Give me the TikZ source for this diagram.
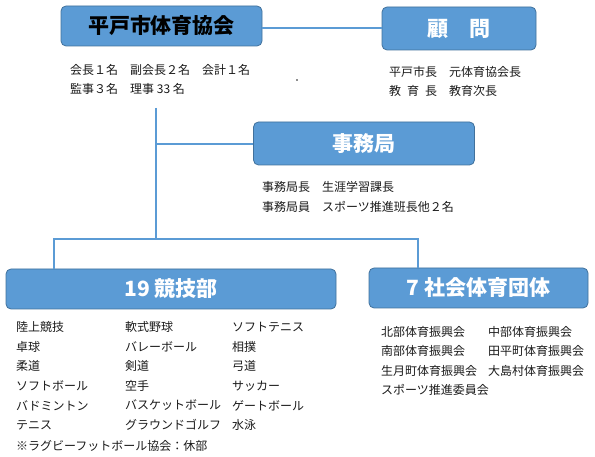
\documentclass[tikz,border=0pt]{standalone}
\usepackage{fontspec}
\setmainfont{Noto Sans CJK JP}
\newfontfamily\jpb{Noto Sans CJK JP}[FakeBold=0]
\definecolor{boxfill}{HTML}{5B9BD5}
\definecolor{boxline}{HTML}{41719C}
\definecolor{conn}{HTML}{5B9BD5}
\definecolor{txt}{HTML}{1A1A1A}
\begin{document}
\begin{tikzpicture}[x=1pt,y=-1pt,
  orgbox/.style={draw=boxline,line width=0.8pt,fill=boxfill,rounded corners=5pt,inner sep=0pt,
    font=\fontsize{21}{21}\selectfont\bfseries},
  body/.style={anchor=west,inner sep=0pt,text=txt,font=\fontsize{12}{12}\selectfont},
  connline/.style={draw=conn,line width=1.6pt}]
\useasboundingbox (0,0) rectangle (595,457);
% boxes
\node[orgbox,minimum width=201pt,minimum height=40pt,text=black] (A) at (161.5,26) {平戸市体育協会};
\node[orgbox,minimum width=154pt,minimum height=43pt,text=white] (B) at (459,28.5) {顧　問};
\node[orgbox,minimum width=221pt,minimum height=43pt,text=white] (C) at (364,143.5) {事務局};
\node[orgbox,minimum width=330pt,minimum height=40pt,text=white] (D) at (171,289) {19 競技部};
\node[orgbox,minimum width=219pt,minimum height=40pt,text=white] (E) at (478.5,288) {7 社会体育団体};
% connectors
\coordinate (jAB) at (320,28);
\coordinate (tTop) at (156,108);
\coordinate (tMid) at (156,144);
\coordinate (tBot) at (156,239);
\coordinate (jL) at (54,239);
\coordinate (jR) at (418,239);
\draw[connline] (jAB -| A.east) -- (jAB -| B.west);
\draw[connline] (tTop) -- (tBot);
\draw[connline] (tMid) -- (tMid -| C.west);
\draw[connline] (jL |- D.north) -- (jL) -- (jR) -- (jR |- E.north);
% stray dot
\fill[txt] (297,80) circle (0.9pt);
% texts under A
\node[body] (a1) at (70,70) {会長１名　副会長２名　会計１名};
\node[body] (a2) at (70,88.5) {監事３名　理事 33 名};
% texts under B
\node[body] (b1) at (389,72) {平戸市長　元体育協会長};
\node[body] (b2) at (389,91) {教\hspace{6pt}育\hspace{6pt}長　教育次長};
% texts under C
\node[body] (c1) at (262,187) {事務局長　生涯学習課長};
\node[body] (c2) at (262,207) {事務局員　スポーツ推進班長他２名};
% 19 sports
\node[body] (d11) at (16,327) {陸上競技};
\node[body] (d12) at (16,346.5) {卓球};
\node[body] (d13) at (16,366) {柔道};
\node[body] (d14) at (16,386) {ソフトボール};
\node[body] (d15) at (16,405.5) {バドミントン};
\node[body] (d16) at (16,425) {テニス};
\node[body] (d21) at (125,327) {軟式野球};
\node[body] (d22) at (125,346.5) {バレーボール};
\node[body] (d23) at (125,366) {剣道};
\node[body] (d24) at (125,386) {空手};
\node[body] (d25) at (125,405.5) {バスケットボール};
\node[body] (d26) at (125,425) {グラウンドゴルフ};
\node[body] (d31) at (232,327) {ソフトテニス};
\node[body] (d32) at (232,346.5) {相撲};
\node[body] (d33) at (232,366) {弓道};
\node[body] (d34) at (232,386) {サッカー};
\node[body] (d35) at (232,405.5) {ゲートボール};
\node[body] (d36) at (232,425) {水泳};
\node[body] (d4) at (16,446) {※ラグビーフットボール協会：休部};
% 7 groups
\node[body] (e11) at (381,332) {北部体育振興会};
\node[body] (e12) at (381,351) {南部体育振興会};
\node[body] (e13) at (381,371) {生月町体育振興会};
\node[body] (e14) at (381,390) {スポーツ推進委員会};
\node[body] (e21) at (488,332) {中部体育振興会};
\node[body] (e22) at (488,351) {田平町体育振興会};
\node[body] (e23) at (488,371) {大島村体育振興会};
\end{tikzpicture}
\end{document}
